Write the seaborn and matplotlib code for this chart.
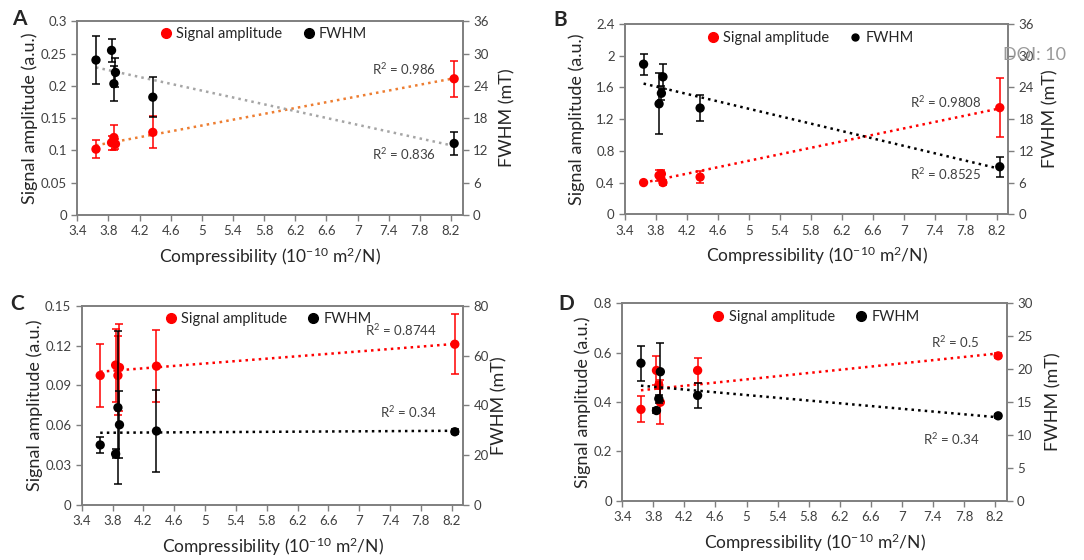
import matplotlib
matplotlib.use('Agg')
import matplotlib.pyplot as plt
from matplotlib.lines import Line2D
from matplotlib.ticker import FuncFormatter
import numpy as np
import pandas as pd
import seaborn as sns

sns.set_style('ticks')
plt.rcParams.update({
    'font.family': ['Lato', 'DejaVu Sans'],
    'mathtext.fontset': 'custom',
    'mathtext.rm': 'Lato',
    'mathtext.it': 'Lato:italic',
    'axes.edgecolor': '#7f7f7f',
    'xtick.color': '#7f7f7f',
    'ytick.color': '#7f7f7f',
    'xtick.labelcolor': '#404040',
    'ytick.labelcolor': '#404040',
})

# shared compressibility values (10^-10 m^2/N)
compress = [3.64, 3.84, 3.87, 3.89, 4.37, 8.24]

# panel A
amp_a = [0.102, 0.112, 0.120, 0.110, 0.128, 0.211]
amp_a_err = [0.014, 0.011, 0.020, 0.008, 0.025, 0.028]
fwhm_a = [28.8, 30.6, 24.4, 26.5, 21.9, 13.3]
fwhm_a_err = [4.5, 2.1, 3.2, 2.7, 3.7, 2.2]

# panel B
amp_b = [0.40, 0.49, 0.51, 0.40, 0.47, 1.345]
amp_b_err = [0.01, 0.07, 0.05, 0.03, 0.07, 0.375]
fwhm_b = [28.4, 20.9, 22.9, 26.0, 20.1, 9.0]
fwhm_b_err = [2.0, 5.75, 1.3, 2.35, 2.4, 1.85]

# panel C
amp_c = [0.0975, 0.1053, 0.0975, 0.1035, 0.1045, 0.121]
amp_c_err = [0.0235, 0.0275, 0.030, 0.033, 0.027, 0.0225]
fwhm_c = [24.1, 20.5, 39.1, 32.2, 29.7, 29.4]
fwhm_c_err = [3.1, 1.8, 30.6, 13.5, 16.3, 1.0]

# panel D
amp_d = [0.370, 0.528, 0.468, 0.399, 0.528, 0.587]
amp_d_err = [0.053, 0.058, 0.015, 0.09, 0.05, 0.01]
fwhm_d = [20.9, 13.7, 15.5, 19.6, 16.0, 12.9]
fwhm_d_err = [2.65, 0.4, 0.6, 4.4, 1.95, 0.3]

r2_amp = ['0.986', '0.9808', '0.8744', '0.5']
r2_fwhm = ['0.836', '0.8525', '0.34', '0.34']

W, H = 1084, 560
fig = plt.figure(figsize=(W / 100, H / 100), dpi=100)


def rect(left, top, right, bottom):
    return [left / W, 1 - bottom / H, (right - left) / W, (bottom - top) / H]


# pixel boxes: left, top, right, bottom; label gaps in pixels
panels = [
    dict(label='A', box=(77.3, 21.3, 462.7, 215), lab_xy=(12, 19),
         amp=amp_a, amp_err=amp_a_err, fwhm=fwhm_a, fwhm_err=fwhm_a_err,
         ylim=(0, 0.3), ystep=0.05, y2lim=(0, 36), y2step=6,
         amp_line='#ED7D31', fwhm_line='#A5A5A5', gaps=(49, 47), leg_ms=7,
         r2_amp_y=0.226, r2_fwhm_y=0.0946, leg=(0.48, 0.934)),
    dict(label='B', box=(625, 24, 1008.3, 214.3), lab_xy=(553, 20),
         amp=amp_b, amp_err=amp_b_err, fwhm=fwhm_b, fwhm_err=fwhm_b_err,
         ylim=(0, 2.4), ystep=0.4, y2lim=(0, 36), y2step=6,
         amp_line='#FF0000', fwhm_line='#000000', gaps=(50, 44), leg_ms=5,
         r2_amp_y=1.42, r2_fwhm_y=0.508, leg=(0.48, 0.926)),
    dict(label='C', box=(81.7, 305.7, 463.3, 505), lab_xy=(10, 304),
         amp=amp_c, amp_err=amp_c_err, fwhm=fwhm_c, fwhm_err=fwhm_c_err,
         ylim=(0, 0.15), ystep=0.03, y2lim=(0, 80), y2step=20,
         amp_line='#FF0000', fwhm_line='#000000', gaps=(48.5, 38), leg_ms=7,
         r2_amp_y=0.1317, r2_fwhm_y=0.0702, leg=(0.485, 0.933)),
    dict(label='D', box=(622.3, 303.3, 1006.7, 500.7), lab_xy=(558, 304),
         amp=amp_d, amp_err=amp_d_err, fwhm=fwhm_d, fwhm_err=fwhm_d_err,
         ylim=(0, 0.8), ystep=0.2, y2lim=(0, 30), y2step=5,
         amp_line='#FF0000', fwhm_line='#000000', gaps=(41, 49), leg_ms=7,
         r2_amp_y=0.642, r2_fwhm_y=0.251, leg=(0.50, 0.932)),
]

fmt = FuncFormatter(lambda v, p: f'{round(v, 4):g}')

for i, p in enumerate(panels):
    df = pd.DataFrame({'x': compress, 'amp': p['amp'], 'amp_err': p['amp_err'],
                       'fwhm': p['fwhm'], 'fwhm_err': p['fwhm_err']})
    ax = fig.add_axes(rect(*p['box']))
    ax2 = ax.twinx()
    width_px = p['box'][2] - p['box'][0]

    # signal amplitude on left axis
    sns.regplot(data=df, x='x', y='amp', scatter=False, ci=None, ax=ax,
                line_kws=dict(color=p['amp_line'], ls=':', lw=1.8))
    ax.errorbar(df['x'], df['amp'], yerr=df['amp_err'], fmt='none',
                ecolor='#FF0000', elinewidth=1.1, capsize=2.8, capthick=1.1)
    sns.scatterplot(data=df, x='x', y='amp', ax=ax, color='#FF0000', s=45,
                    edgecolor='none', zorder=3)

    # FWHM on right axis
    sns.regplot(data=df, x='x', y='fwhm', scatter=False, ci=None, ax=ax2,
                line_kws=dict(color=p['fwhm_line'], ls=':', lw=1.8))
    ax2.errorbar(df['x'], df['fwhm'], yerr=df['fwhm_err'], fmt='none',
                 ecolor='#000000', elinewidth=1.1, capsize=2.8, capthick=1.1)
    sns.scatterplot(data=df, x='x', y='fwhm', ax=ax2, color='#000000', s=45,
                    edgecolor='none', zorder=3)

    ax.set_xlim(3.4, 8.35)
    ax.set_ylim(*p['ylim'])
    ax2.set_ylim(*p['y2lim'])
    ax.set_xticks(np.round(np.arange(3.4, 8.21, 0.4), 1))
    ax.set_yticks(np.round(np.arange(0, p['ylim'][1] + 1e-9, p['ystep']), 4))
    ax2.set_yticks(np.arange(0, p['y2lim'][1] + 1e-9, p['y2step']))
    ax.xaxis.set_major_formatter(fmt)
    ax.yaxis.set_major_formatter(fmt)
    ax2.yaxis.set_major_formatter(fmt)
    for a in (ax, ax2):
        a.tick_params(length=4, width=1, labelsize=9.5)
        for s in a.spines.values():
            s.set_color('#7f7f7f')
            s.set_linewidth(1.2)

    ax.set_xlabel('Compressibility (10$^{-10}$ m$^2$/N)', fontsize=12.5,
                  labelpad=6)
    ax.set_ylabel('Signal amplitude (a.u.)', fontsize=13)
    ax2.set_ylabel('FWHM (mT)', fontsize=13)
    ax.yaxis.set_label_coords(-(p['gaps'][0] - 10) / width_px, 0.5)
    ax2.yaxis.set_label_coords(1 + (p['gaps'][1] - 10) / width_px, 0.5)

    ax.text(8.0, p['r2_amp_y'], f'R$^2$ = {r2_amp[i]}', ha='right',
            va='center', fontsize=9.5, color='#404040')
    ax.text(8.0, p['r2_fwhm_y'], f'R$^2$ = {r2_fwhm[i]}', ha='right',
            va='center', fontsize=9.5, color='#404040')

    handles = [Line2D([], [], marker='o', ls='', color='#FF0000', markersize=7,
                      label='Signal amplitude'),
               Line2D([], [], marker='o', ls='', color='#000000',
                      markersize=p['leg_ms'], label='FWHM')]
    ax2.legend(handles=handles, loc='center', bbox_to_anchor=p['leg'], ncol=2,
               frameon=False, fontsize=10.5, handletextpad=0.1,
               columnspacing=1.2, handlelength=1.2)

    fig.text(p['lab_xy'][0] / W, 1 - p['lab_xy'][1] / H, p['label'],
             fontsize=15, fontweight='bold', ha='left', va='center')

fig.text(1003 / W, 1 - 55 / H, 'DOI: 10', fontsize=13, color='#9a9a9a',
         ha='left', va='center')

fig.savefig('out.png', dpi=100)
